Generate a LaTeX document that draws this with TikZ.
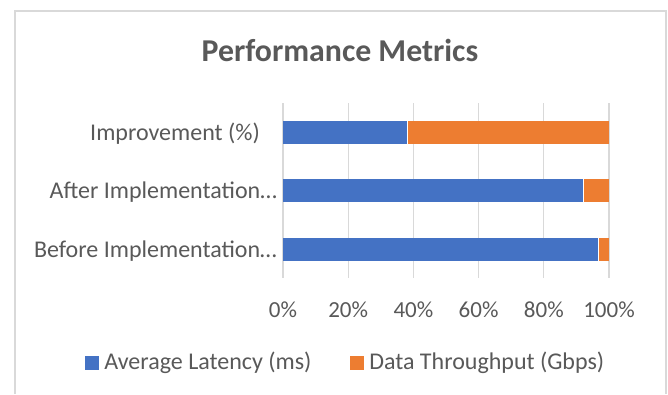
\documentclass[tikz,border=0pt]{standalone}
\usepackage{fontspec}
\setmainfont{Carlito}
\usetikzlibrary{positioning}
\definecolor{latency}{HTML}{4472C4}
\definecolor{throughput}{HTML}{ED7D31}
\definecolor{gridgray}{HTML}{D9D9D9}
\definecolor{textgray}{HTML}{595959}

\begin{document}
\begin{tikzpicture}[
  x=1pt, y=-1pt,
  frame/.style={draw=gridgray, line width=1.3pt},
  gridline/.style={draw=gridgray, line width=1.3pt},
  txt/.style={text=textgray, inner sep=0pt, font=\fontsize{24}{28}\selectfont},
  ticktxt/.style={txt, font=\fontsize{23}{27}\selectfont},
  ttl/.style={text=textgray, inner sep=0pt, font=\fontsize{31.8}{38}\selectfont\bfseries},
  legsq/.style={minimum size=14pt, inner sep=0pt}
]
\useasboundingbox (0,0) rectangle (668,394);
\fill[white] (0,0) rectangle (668,394);

% chart border
\draw[frame] (15,394) -- (15,11) -- (666,11) -- (666,394);

\node[ttl, anchor=base] (title) at (340,61) {Performance Metrics};

% gridlines and axis labels
\foreach \p [count=\i from 0] in {0,20,...,100} {
  \draw[gridline] (283+3.26*\p,103) -- (283+3.26*\p,278);
  \node[ticktxt, anchor=base] (tick\i) at (283+3.26*\p,317) {\p\%};
}

% stacked bars (share of latency, rest is throughput)
\foreach \yc/\lat/\xe/\cat [count=\i] in {
    132.5/38/260/{Improvement (\%)},
    190.5/92/277/{After Implementation…},
    249.5/96.6/277/{Before Implementation…}} {
  \fill[latency] (283,\yc-11.5) rectangle (283+3.26*\lat,\yc+11.5);
  \fill[throughput] (283+3.26*\lat,\yc-11.5) rectangle (609,\yc+11.5);
  \draw[white, line width=0.5pt] (283+3.26*\lat,\yc-11.5) -- (283+3.26*\lat,\yc+11.5);
  \node[txt, anchor=base east] (cat\i) at (\xe,\yc+7.5) {\cat};
}

% legend
\node[legsq, fill=latency] (sqlat) at (92,363) {};
\node[txt, right=5pt of sqlat] (leglat) {Average Latency (ms)};
\node[legsq, fill=throughput, right=38pt of leglat] (sqthr) {};
\node[txt, right=5pt of sqthr] (legthr) {Data Throughput (Gbps)};

\end{tikzpicture}
\end{document}
